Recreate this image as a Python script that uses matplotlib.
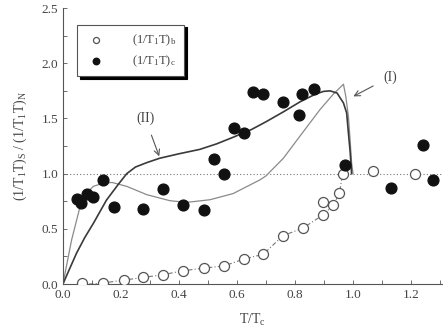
import matplotlib
matplotlib.use("Agg")
import matplotlib.pyplot as plt
from matplotlib.ticker import MultipleLocator

# open circles: (1/T1T)_b
tb_x = [0.065, 0.139, 0.21, 0.277, 0.345, 0.413, 0.486, 0.555, 0.624, 0.691,
        0.757, 0.829, 0.895, 0.897, 0.932, 0.953, 0.964, 1.07, 1.214]
tb_y = [0.006, 0.01, 0.036, 0.06, 0.085, 0.12, 0.145, 0.164, 0.227, 0.27,
        0.436, 0.51, 0.74, 0.627, 0.715, 0.824, 0.997, 1.02, 0.995]

# filled circles: (1/T1T)_c
tc_x = [0.05, 0.063, 0.084, 0.105, 0.139, 0.176, 0.277, 0.345, 0.413, 0.486,
        0.52, 0.555, 0.589, 0.624, 0.656, 0.691, 0.757, 0.814, 0.825, 0.866,
        0.974, 1.13, 1.242, 1.277]
tc_y = [0.77, 0.73, 0.82, 0.79, 0.945, 0.70, 0.68, 0.86, 0.72, 0.675,
        1.136, 0.994, 1.41, 1.37, 1.74, 1.72, 1.65, 1.53, 1.72, 1.77,
        1.075, 0.87, 1.264, 0.945]

# dash-dot guide through the open circles
guide_x = [0.09, 0.139, 0.21, 0.277, 0.345, 0.413, 0.486, 0.555, 0.624, 0.691,
           0.757, 0.829, 0.897, 0.932, 0.953, 0.964]
guide_y = [0.0, 0.01, 0.036, 0.06, 0.085, 0.12, 0.145, 0.164, 0.227, 0.27,
           0.436, 0.51, 0.627, 0.715, 0.824, 0.997]

# model curve (I), thin
c1_x = [0.0, 0.03, 0.059, 0.08, 0.105, 0.139, 0.17, 0.22, 0.289, 0.369, 0.427,
        0.507, 0.587, 0.68, 0.70, 0.76, 0.817, 0.886, 0.932, 0.967, 0.975,
        0.984, 0.99, 0.995, 1.0]
c1_y = [0.0, 0.40, 0.70, 0.82, 0.885, 0.915, 0.92, 0.885, 0.81, 0.755, 0.74,
        0.764, 0.82, 0.945, 0.98, 1.14, 1.34, 1.58, 1.72, 1.81, 1.70,
        1.52, 1.30, 1.10, 1.0]

# model curve (II), thick
c2_x = [0.0, 0.02, 0.047, 0.075, 0.105, 0.15, 0.19, 0.22, 0.25, 0.289, 0.334,
        0.40, 0.472, 0.53, 0.587, 0.65, 0.70, 0.76, 0.817, 0.87, 0.898, 0.921,
        0.945, 0.967, 0.978, 0.984, 0.99, 0.993, 0.995]
c2_y = [0.0, 0.12, 0.28, 0.42, 0.55, 0.76, 0.90, 1.0, 1.06, 1.10, 1.14,
        1.18, 1.22, 1.27, 1.33, 1.40, 1.47, 1.56, 1.65, 1.72, 1.745, 1.75,
        1.73, 1.64, 1.55, 1.37, 1.20, 1.08, 1.0]

plt.rcParams["font.family"] = ["Liberation Serif", "DejaVu Serif"]
plt.rcParams["mathtext.fontset"] = "custom"
plt.rcParams["mathtext.rm"] = "Liberation Serif"
plt.rcParams["mathtext.it"] = "Liberation Serif"

txt = "#444444"
fig = plt.figure(figsize=(4.43, 3.35), dpi=100)
ax = fig.add_axes([0.142, 0.152, 0.856, 0.824])

ax.axhline(1.0, color="#777777", lw=0.8, ls=(0, (1, 2)), zorder=1)
ax.plot(guide_x, guide_y, color="#777777", lw=0.8, ls=(0, (4, 2, 1, 2)), zorder=1)
ax.plot(c1_x, c1_y, color="#8a8a8a", lw=0.9, zorder=2)
ax.plot(c2_x, c2_y, color="#3a3a3a", lw=1.2, zorder=2)

ax.scatter(tb_x, tb_y, s=52, facecolor="white", edgecolor="#555555", lw=0.9,
           zorder=3, label=r"(1/T$_\mathrm{1}$T)$_\mathrm{b}$")
ax.scatter(tc_x, tc_y, s=60, color="#111111", zorder=4,
           label=r"(1/T$_\mathrm{1}$T)$_\mathrm{c}$")

ax.annotate("(I)", xy=(1.001, 1.70), xytext=(1.128, 1.875), color=txt,
            fontsize=10, ha="center", va="center",
            arrowprops=dict(arrowstyle="->", color="#555555", lw=0.8,
                            shrinkA=6, shrinkB=0))
ax.annotate("(II)", xy=(0.332, 1.157), xytext=(0.283, 1.506), color=txt,
            fontsize=10, ha="center", va="center",
            arrowprops=dict(arrowstyle="->", color="#555555", lw=0.8,
                            shrinkA=6, shrinkB=0))

ax.set_xlim(0, 1.307)
ax.set_ylim(0, 2.5)
ax.xaxis.set_major_locator(MultipleLocator(0.2))
ax.xaxis.set_minor_locator(MultipleLocator(0.1))
ax.yaxis.set_major_locator(MultipleLocator(0.5))
ax.yaxis.set_minor_locator(MultipleLocator(0.25))
ax.xaxis.set_major_formatter(plt.FormatStrFormatter("%.1f"))
ax.yaxis.set_major_formatter(plt.FormatStrFormatter("%.1f"))
ax.tick_params(which="both", direction="in", length=3, width=0.6,
               colors="#555555", labelcolor=txt, labelsize=9.5)
for side in ("top", "right"):
    ax.spines[side].set_visible(False)
for side in ("left", "bottom"):
    ax.spines[side].set_color("#555555")
    ax.spines[side].set_linewidth(0.8)

ax.set_xlabel(r"T/T$_\mathrm{c}$", fontsize=10, color=txt, labelpad=8)
ax.set_ylabel(r"(1/T$_\mathrm{1}$T)$_\mathrm{S}$ / (1/T$_\mathrm{1}$T)$_\mathrm{N}$",
              fontsize=10, color=txt, labelpad=9)

leg = ax.legend(loc="upper left", bbox_to_anchor=(0.037, 0.94), fontsize=9,
                frameon=True, fancybox=False, markerscale=0.6,
                shadow={"color": "black", "alpha": 1.0},
                handlelength=1.8, handletextpad=2.0, borderpad=0.6,
                labelspacing=0.45, borderaxespad=0)
leg.get_frame().set_edgecolor("#555555")
leg.get_frame().set_linewidth(0.8)
for t in leg.get_texts():
    t.set_color(txt)

fig.savefig("out.png", dpi=100)
